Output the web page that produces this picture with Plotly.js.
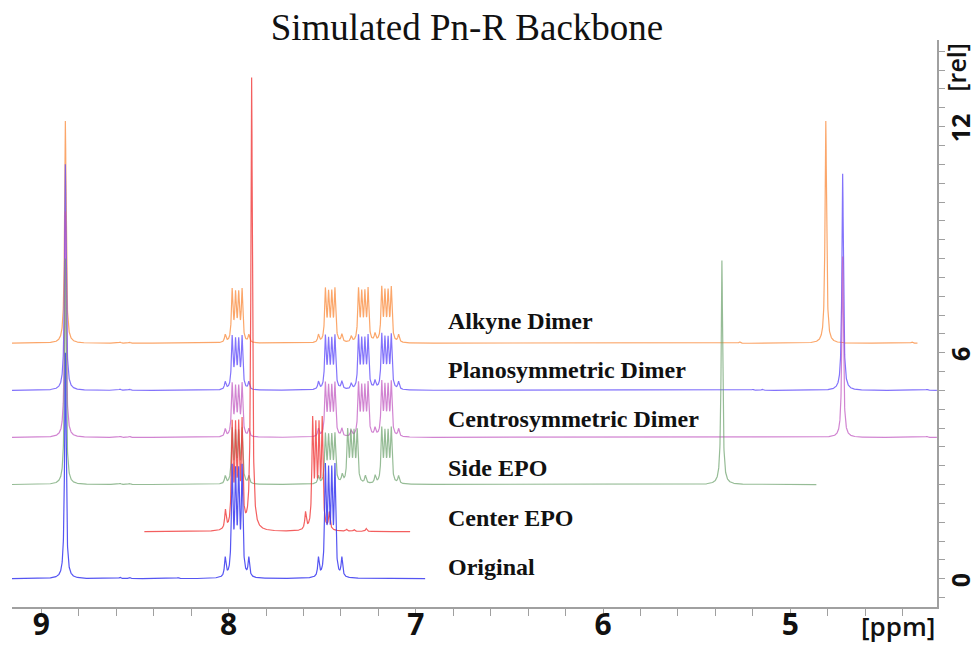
<!DOCTYPE html>
<html>
<head>
<meta charset="utf-8">
<script src="https://cdn.plot.ly/plotly-3.0.1.min.js"></script>
<style>
  html, body { margin: 0; padding: 0; background: #ffffff; }
  #chart { width: 979px; height: 645px; }
</style>
</head>
<body>
<div id="chart"></div>
<script>
// Stacked simulated 1H spectra, listed from the bottom trace to the top one.
const names   = ['Original', 'Center EPO', 'Side EPO', 'Centrosymmetric Dimer', 'Planosymmetric Dimer', 'Alkyne Dimer'];
const offsets = [0, 1.25, 2.5, 3.75, 5.0, 6.25];          // vertical stacking offset [rel]
const ppmStart = [9.16, 8.45, 9.16, 9.16, 9.16, 9.16];    // simulated window, high-field end
const ppmEnd   = [6.95, 7.03, 4.86, 4.216, 4.216, 4.32];  // simulated window, low-field end
const labelY   = [0.31, 1.61, 2.94, 4.24, 5.54, 6.84];    // label baseline heights [rel]

// Aromatic multiplets shared by the three dimers: shift [ppm] and intensity [rel]
const dimerArShift  = [8.018, 7.981, 7.963, 7.946, 7.928, 7.892,
                       7.520, 7.483, 7.466, 7.449, 7.432, 7.395, 7.345,
                       7.306, 7.289, 7.272, 7.255, 7.218,
                       7.182, 7.165, 7.148, 7.131, 7.092];
const dimerArHeight = [0.20, 1.35, 1.20, 1.20, 1.35, 0.20,
                       0.20, 1.35, 1.20, 1.20, 1.35, 0.20, 0.15,
                       1.35, 1.20, 1.20, 1.35, 0.20,
                       1.38, 1.22, 1.22, 1.38, 0.20];

// Peak lists of each spectrum
const originalShift  = [8.872, 8.580, 8.530, 8.270, 8.018, 7.981, 7.963, 7.946, 7.928, 7.892,
                        7.520, 7.483, 7.466, 7.449, 7.432, 7.395];
const originalHeight = [6.00, 0.04, 0.04, 0.03, 0.50, 2.80, 2.55, 2.55, 2.80, 0.50,
                        0.50, 2.80, 2.55, 2.55, 2.80, 0.50];

const centerEpoShift  = [8.017, 7.981, 7.963, 7.946, 7.928, 7.877,
                         7.589, 7.551, 7.534, 7.517, 7.500, 7.462, 7.370, 7.330, 7.265];
const centerEpoHeight = [0.50, 2.70, 2.50, 2.50, 2.70, 12.0,
                         0.45, 2.80, 2.50, 2.50, 2.80, 0.45, 0.05, 0.05, 0.08];

const sideEpoShift  = [8.872, 8.580, 8.530,
                       8.018, 7.981, 7.963, 7.946, 7.928, 7.892,
                       7.520, 7.483, 7.466, 7.449, 7.432, 7.393,
                       7.364, 7.347, 7.330, 7.313, 7.269,
                       7.217, 7.182, 7.165, 7.148, 7.131, 7.092, 5.365];
const sideEpoHeight = [6.00, 0.03, 0.03,
                       0.20, 1.40, 1.25, 1.25, 1.40, 0.20,
                       0.20, 1.25, 1.15, 1.15, 1.25, 0.20,
                       1.35, 1.25, 1.25, 1.35, 0.20,
                       0.20, 1.40, 1.25, 1.25, 1.40, 0.20, 5.95];

const centroShift  = [8.872, 8.580, 8.530, 4.720, 4.270];
const centroHeight = [6.00, 0.03, 0.03, 4.80, 0.03];

const planoShift  = [8.872, 8.580, 8.530, 5.200, 5.150, 4.720, 4.270];
const planoHeight = [6.00, 0.03, 0.03, 0.03, 0.03, 5.75, 0.03];

const alkyneShift  = [8.872, 8.580, 8.530, 5.270, 4.810, 4.350];
const alkyneHeight = [5.90, 0.03, 0.03, 0.04, 5.90, 0.04];

const peakShifts  = [originalShift, centerEpoShift, sideEpoShift,
                     centroShift.concat(dimerArShift), planoShift.concat(dimerArShift), alkyneShift.concat(dimerArShift)];
const peakHeights = [originalHeight, centerEpoHeight, sideEpoHeight,
                     centroHeight.concat(dimerArHeight), planoHeight.concat(dimerArHeight), alkyneHeight.concat(dimerArHeight)];

// Line styling (bottom to top)
const colors = ['rgba(55,55,240,0.85)', 'rgba(240,55,55,0.8)', 'rgba(105,160,105,0.7)',
                'rgba(190,80,190,0.7)', 'rgba(100,80,250,0.8)', 'rgba(250,150,80,0.85)'];
const halfWidth = 0.0048;   // Lorentzian half width at half maximum [ppm]
const step = 0.0006;        // sampling step [ppm]

// Sum of Lorentzian lines for one peak list, sampled over [lo, hi]
function simulate(shifts, heights, hi, lo, base) {
  let xs = [];
  for (let p = hi; p >= lo; p -= step) xs.push(p);
  shifts.forEach(s => { if (s <= hi && s >= lo) xs.push(s); });
  xs.sort((a, b) => b - a);
  const g2 = halfWidth * halfWidth;
  const ys = xs.map(x => {
    let v = base;
    for (let i = 0; i < shifts.length; i++) {
      const d = x - shifts[i];
      v += heights[i] * g2 / (g2 + d * d);
    }
    return v;
  });
  return {x: xs, y: ys};
}

// Top spectrum first so the lower ones are painted over it
const traces = [];
for (let k = names.length - 1; k >= 0; k--) {
  const s = simulate(peakShifts[k], peakHeights[k], ppmStart[k], ppmEnd[k], offsets[k]);
  traces.push({
    type: 'scatter', mode: 'lines', x: s.x, y: s.y, name: names[k],
    line: {color: colors[k], width: 1.2}, hoverinfo: 'skip', showlegend: false
  });
}

const axisGrey = '#a0a0a0';

const annotations = names.map((n, k) => ({
  text: n, xref: 'x', yref: 'y', x: 6.838, y: labelY[k],
  xanchor: 'left', yanchor: 'middle', showarrow: false,
  font: {family: 'Liberation Serif, Times New Roman, serif', size: 24, weight: 700, color: '#111111'}
}));
annotations.push({
  text: '[ppm]', xref: 'paper', yref: 'paper', x: 0.958, y: -0.034,
  xanchor: 'center', yanchor: 'middle', showarrow: false,
  font: {family: 'Open Sans, sans-serif', size: 26, weight: 600, color: '#111111'}
});
annotations.push({
  text: '[rel]', xref: 'paper', yref: 'paper', x: 1.021, y: 0.952, textangle: -90,
  xanchor: 'center', yanchor: 'middle', showarrow: false,
  font: {family: 'Open Sans, sans-serif', size: 25, weight: 600, color: '#111111'}
});

const layout = {
  width: 979, height: 645,
  paper_bgcolor: '#ffffff', plot_bgcolor: '#ffffff',
  margin: {l: 12, r: 42, t: 40, b: 38},
  title: {
    text: 'Simulated Pn-R Backbone',
    font: {family: 'Liberation Serif, Times New Roman, serif', size: 37, color: '#111111'},
    x: 0.477, xanchor: 'center', xref: 'container',
    y: 0.958, yanchor: 'middle', yref: 'container'
  },
  xaxis: {
    range: [9.157, 4.216], showgrid: false, zeroline: false,
    showline: true, linecolor: axisGrey, linewidth: 1.5,
    ticks: 'outside', ticklen: 7, tickcolor: axisGrey, tickwidth: 1,
    tick0: 0, dtick: 1, ticklabelstandoff: -17,
    tickfont: {family: 'Open Sans, sans-serif', size: 30, weight: 700, color: '#111111'},
    minor: {dtick: 0.2, tick0: 0, ticks: 'outside', ticklen: 7, tickcolor: axisGrey, tickwidth: 1, showgrid: false}
  },
  yaxis: {
    range: [-0.75, 14.3], side: 'right', showgrid: false, zeroline: false,
    showline: true, linecolor: axisGrey, linewidth: 1.5,
    ticks: 'outside', ticklen: 6, tickcolor: axisGrey, tickwidth: 1,
    tick0: 0, dtick: 6, tickangle: -90, ticklabelstandoff: -5, ticklabelshift: 5,
    tickfont: {family: 'Open Sans, sans-serif', size: 25, weight: 700, color: '#111111'},
    minor: {dtick: 0.5, tick0: 0, ticks: 'outside', ticklen: 6, tickcolor: axisGrey, tickwidth: 1, showgrid: false}
  },
  annotations: annotations,
  showlegend: false
};

Plotly.newPlot('chart', traces, layout, {displayModeBar: false, staticPlot: true});
</script>
</body>
</html>
